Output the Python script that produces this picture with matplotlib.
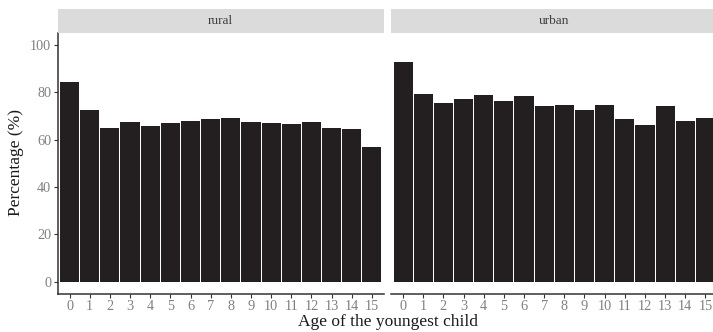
import matplotlib
matplotlib.use("Agg")
import matplotlib.pyplot as plt

ages = list(range(16))
rural = [84.4, 72.7, 64.8, 67.6, 65.9, 67.2, 68.0, 68.9, 69.3, 67.6, 67.2, 66.8, 67.6, 65.1, 64.7, 57.1]
urban = [92.8, 79.4, 75.6, 77.3, 79.0, 76.4, 78.5, 74.3, 74.8, 72.7, 74.8, 68.9, 66.3, 74.3, 68.0, 69.3]
panels = ["rural", "urban"]
yticks = [0, 20, 40, 60, 80, 100]

plt.rcParams["font.family"] = ["Liberation Serif", "DejaVu Serif"]

W, H = 713, 332
fig = plt.figure(figsize=(W / 100, H / 100), dpi=100)

bar_col = "#231f20"
tick_col = "#808080"
line_col = "#333333"
pw = 326.5 / W
lefts = [57.5 / W, 391 / W]
bottom = 1 - 293.7 / H
ph = 260.7 / H

for i, (name, vals) in enumerate(zip(panels, [rural, urban])):
    ax = fig.add_axes([lefts[i], bottom, pw, ph])
    ax.bar(ages, vals, width=0.95, color=bar_col, linewidth=0)
    ax.set_xlim(-0.6, 15.6)
    ax.set_ylim(-5, 105)
    ax.set_xticks(ages)
    ax.set_xticklabels([str(a) for a in ages])
    for s in ["top", "right"]:
        ax.spines[s].set_visible(False)
    ax.spines["bottom"].set_color(line_col)
    ax.spines["bottom"].set_linewidth(1.1)
    ax.tick_params(axis="x", length=3, width=0.8, color=line_col, labelsize=10.3,
                   labelcolor=tick_col, pad=1.5)
    if i == 0:
        ax.set_yticks(yticks)
        ax.spines["left"].set_color(line_col)
        ax.spines["left"].set_linewidth(1.1)
        ax.tick_params(axis="y", length=3, width=0.8, color=line_col, labelsize=10.3,
                       labelcolor=tick_col, pad=1.5)
    else:
        ax.spines["left"].set_visible(False)
        ax.set_yticks([])
    ax.patch.set_alpha(0)

    # facet strip (same width as the panel, right one runs past the edge)
    sax = fig.add_axes([lefts[i], 1 - 33 / H, pw, 24 / H])
    sax.set_facecolor("#dbdbdc")
    sax.set_xticks([])
    sax.set_yticks([])
    for s in sax.spines.values():
        s.set_visible(False)
    sax.text(0.5, 0.5, name, ha="center", va="center", fontsize=9.6, color="#404040",
             transform=sax.transAxes)

fig.text(388 / W, 1 - 322 / H, "Age of the youngest child", ha="center", va="center",
         fontsize=12.5, color="#1a1a1a")
fig.text(16 / W, 1 - 163 / H, "Percentage (%)", ha="center", va="center", rotation=90,
         fontsize=12.5, color="#1a1a1a")

fig.savefig("out.png", dpi=100)
